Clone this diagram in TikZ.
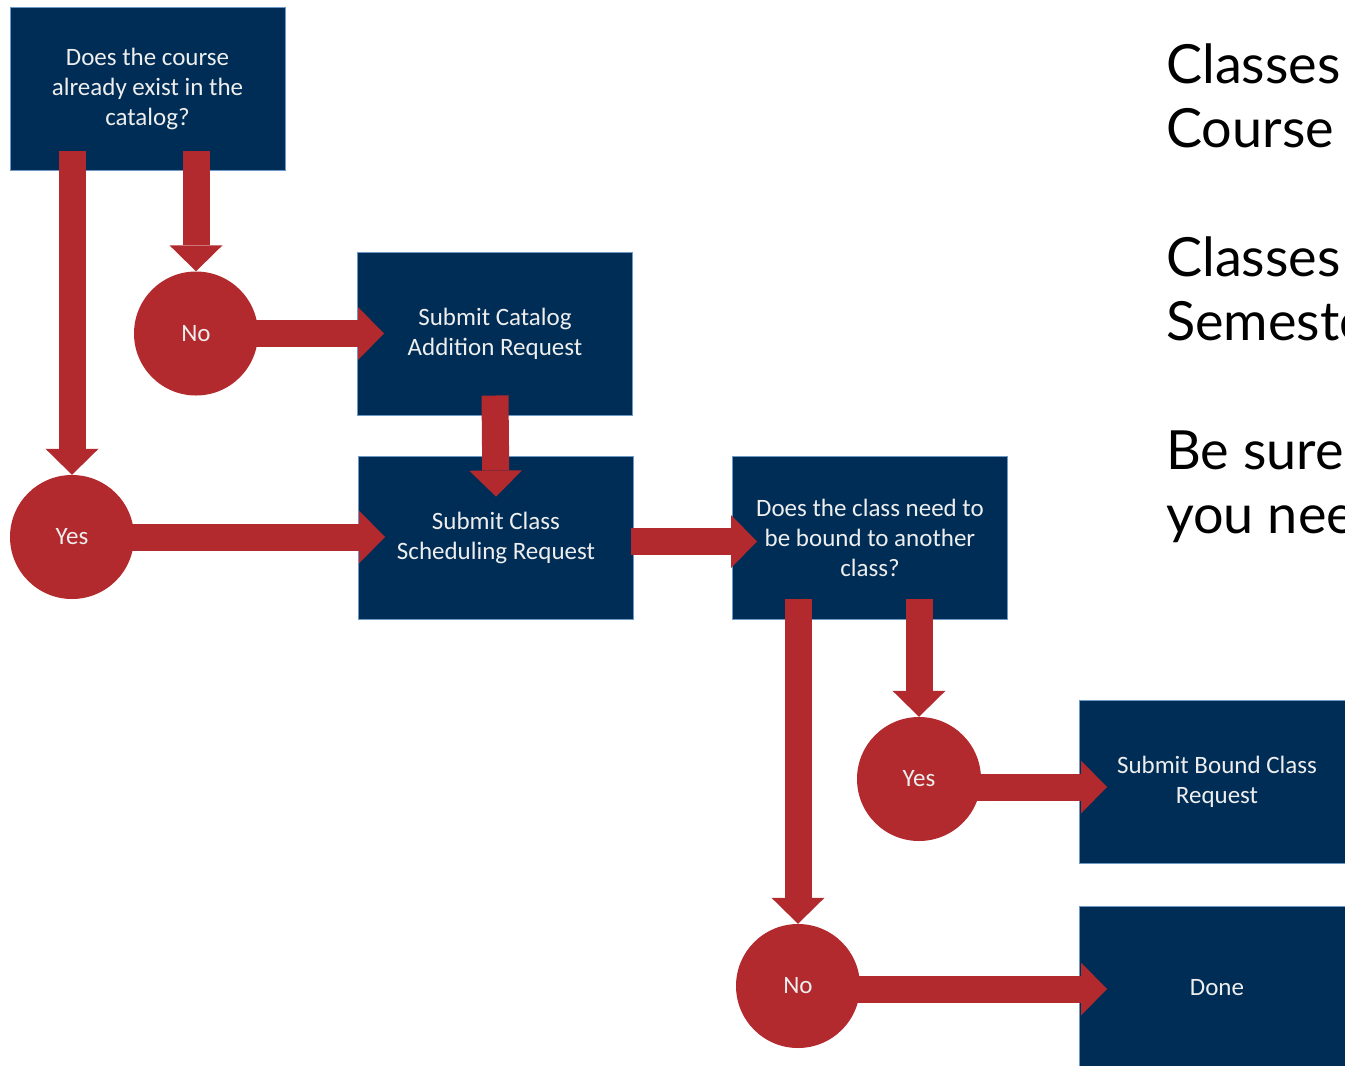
\documentclass[tikz,border=0pt]{standalone}
\usepackage{fontspec}
\setmainfont{Carlito}
\newfontfamily\notefont{Lato}
\usetikzlibrary{positioning,arrows.meta,calc}
\definecolor{navy}{HTML}{002D55}
\definecolor{edgeblue}{HTML}{6E98C6}
\definecolor{flowred}{HTML}{B2292E}
\definecolor{boxtext}{HTML}{EEEEEE}

\begin{document}
\begin{tikzpicture}[x=1pt, y=-1pt,
    stepbox/.style={rectangle, fill=navy, draw=edgeblue, line width=1pt, minimum width=275pt, minimum height=163pt, inner sep=0pt, align=center, text=boxtext, font=\fontsize{25}{30}\selectfont},
    answer/.style={circle, fill=flowred, minimum size=124pt, inner sep=0pt, text=boxtext, font=\fontsize{25}{30}\selectfont},
    flow/.style={draw=flowred, line width=27pt, -{Triangle[length=26pt, width=53pt, line width=0pt]}},
    note/.style={anchor=base west, inner sep=0pt, text=black, font=\notefont\fontsize{54}{65}\selectfont}]
    \clip (0,0) rectangle (1345,1066);

    % Question and request boxes
    \node[stepbox] (exists) at (147.5,88.5) {Does the course\\already exist in the\\catalog?};
    \node[stepbox] (catalog) at (495,333.5) {Submit Catalog\\Addition Request};
    \node[stepbox] (schedule) at (496,537.5) {Submit Class\\Scheduling Request};
    \node[stepbox] (needbound) at (870,537.5) {Does the class need to\\be bound to another\\class?};
    \node[stepbox] (boundreq) at (1217,782) {Submit Bound Class\\Request};
    \node[stepbox] (done) at (1217,988) {Done};

    % Yes / No answers
    \node[answer] (nocat) at (196,333.5) {No};
    \node[answer] (yesexist) at (72,537) {Yes};
    \node[answer] (yesbound) at (919,779) {Yes};
    \node[answer] (nobound) at (798,986) {No};

    % Block arrows
    \draw[flow] ($(yesexist |- exists.south)+(0,-20)$) -- (yesexist.north);
    \draw[flow] ($(nocat |- exists.south)+(0,-20)$) -- (nocat.north);
    \draw[flow] ($(nocat.east)+(-3,0)$) -- ($(nocat -| catalog.west)+(27,0)$);
    \draw[flow] ($(catalog.south)+(0,-20)$) -- ($(schedule.north)+(0,41)$);
    \draw[flow] ($(yesexist.east)+(-3,0)$) -- ($(yesexist -| schedule.west)+(27,0)$);
    \draw[flow] ($(schedule.east)+(-3,4)$) -- ($(needbound.west)+(25,4)$);
    \draw[flow] ($(yesbound |- needbound.south)+(0,-21)$) -- (yesbound.north);
    \draw[flow] ($(nobound |- needbound.south)+(0,-21)$) -- (nobound.north);
    \draw[flow] ($(yesbound.east)+(-5,8)$) -- ($(yesbound -| boundreq.west)+(28,8)$);
    \draw[flow] ($(nobound.east)+(-4,3)$) -- ($(nobound -| done.west)+(28,3)$);

    % Notes on the right, cut by the page edge
    \foreach \ypos/\txt [count=\i] in {83/Classes, 147/Course, 276/Classes, 340/Semester, 469/Be sure, 533/you need}
        \node[note] (note\i) at (1166,\ypos) {\txt};
\end{tikzpicture}
\end{document}
